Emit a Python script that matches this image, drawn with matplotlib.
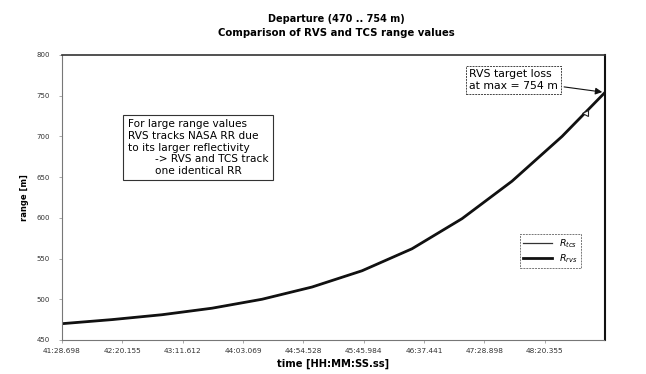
import matplotlib
matplotlib.use("Agg")
import matplotlib.pyplot as plt

# elapsed time since track start [s] and measured range [m]
t_rvs = [0, 42.6, 85.3, 127.9, 170.6, 213.2, 255.9, 298.5, 341.2, 383.8, 426.5, 463.1]
r_rvs = [470, 475, 481, 489, 500, 515, 535, 562, 599, 645, 700, 754]
t_tcs = [0, 42.6, 85.3, 127.9, 170.6, 213.2, 255.9, 298.5, 341.2, 383.8, 426.5, 446.0]
r_tcs = [470, 475, 481, 489, 500, 515, 535, 562, 599, 645, 700, 729]

tick_pos = [0, 51.457, 102.914, 154.371, 205.828, 257.285, 308.742, 360.199, 411.656]
tick_lbl = ["41:28.698", "42:20.155", "43:11.612", "44:03.069", "44:54.528",
            "45:45.984", "46:37.441", "47:28.898", "48:20.355"]
y_ticks = [450, 500, 550, 600, 650, 700, 750, 800]

plt.rcParams['font.family'] = ['DejaVu Sans']

fig = plt.figure(figsize=(6.46, 3.74), dpi=100)
ax = fig.add_axes([0.096, 0.091, 0.8405, 0.762])

ax.plot(t_tcs, r_tcs, color='#333333', lw=0.9, label=r'$R_{tcs}$')
ax.plot(t_rvs, r_rvs, color='#111111', lw=2.0, label=r'$R_{rvs}$')
# TCS loses the target slightly before RVS
ax.plot(t_tcs[-1], r_tcs[-1], marker='<', ms=4, mfc='white', mec='#222222', mew=0.8)

ax.set_xlim(0, 463.1)
ax.set_ylim(450, 800)
ax.set_xticks(tick_pos)
ax.set_xticklabels(tick_lbl, fontsize=5.3)
ax.set_yticks(y_ticks)
ax.set_yticklabels([str(v) for v in y_ticks], fontsize=5)
ax.tick_params(length=2, width=0.5, colors='#888888', labelcolor='#333333')
ax.tick_params(axis='y', pad=7)
ax.tick_params(axis='x', pad=4)

for side in ['left', 'bottom', 'top']:
    ax.spines[side].set_color('#777777')
    ax.spines[side].set_linewidth(0.8)
ax.spines['bottom'].set_linestyle((0, (2, 1)))
ax.spines['right'].set_color('#111111')
ax.spines['right'].set_linewidth(1.5)
ax.spines['top'].set_color('#333333')
ax.spines['top'].set_linewidth(1.2)

ax.set_xlabel('time [HH:MM:SS.ss]', fontsize=7.2, fontweight='bold', labelpad=3)
ax.set_ylabel('range [m]', fontsize=6, fontweight='bold', labelpad=5)
fig.text(0.52, 0.94, 'Departure (470 .. 754 m)', ha='center', fontsize=7,
         fontweight='bold')
fig.text(0.52, 0.903, 'Comparison of RVS and TCS range values', ha='center',
         fontsize=7.3, fontweight='bold')

# explanatory note
ax.text(56, 721, "For large range values\nRVS tracks NASA RR due\nto its larger reflectivity\n"
        "        -> RVS and TCS track\n        one identical RR",
        fontsize=7.6, va='top', ha='left', linespacing=1.2,
        bbox=dict(boxstyle='square,pad=0.45', fc='white', ec='#333333', lw=0.8))

# target loss marker
ax.annotate("RVS target loss\nat max = 754 m", xy=(t_rvs[-1], r_rvs[-1]),
            xytext=(347, 783), fontsize=7.8, va='top', ha='left', linespacing=1.3,
            bbox=dict(boxstyle='square,pad=0.3', fc='white', ec='#444444',
                      lw=0.7, ls=(0, (2, 1))),
            arrowprops=dict(arrowstyle='-|>', color='#111111', lw=0.8,
                            mutation_scale=10))

leg = ax.legend(loc='lower right', bbox_to_anchor=(0.965, 0.235), fontsize=6.8,
                frameon=True, fancybox=False, handlelength=3.0, borderpad=0.35,
                labelspacing=0.25)
leg.get_frame().set_edgecolor('#555555')
leg.get_frame().set_linestyle((0, (2, 1)))
leg.get_frame().set_linewidth(0.7)

fig.savefig('out.png', dpi=100)
